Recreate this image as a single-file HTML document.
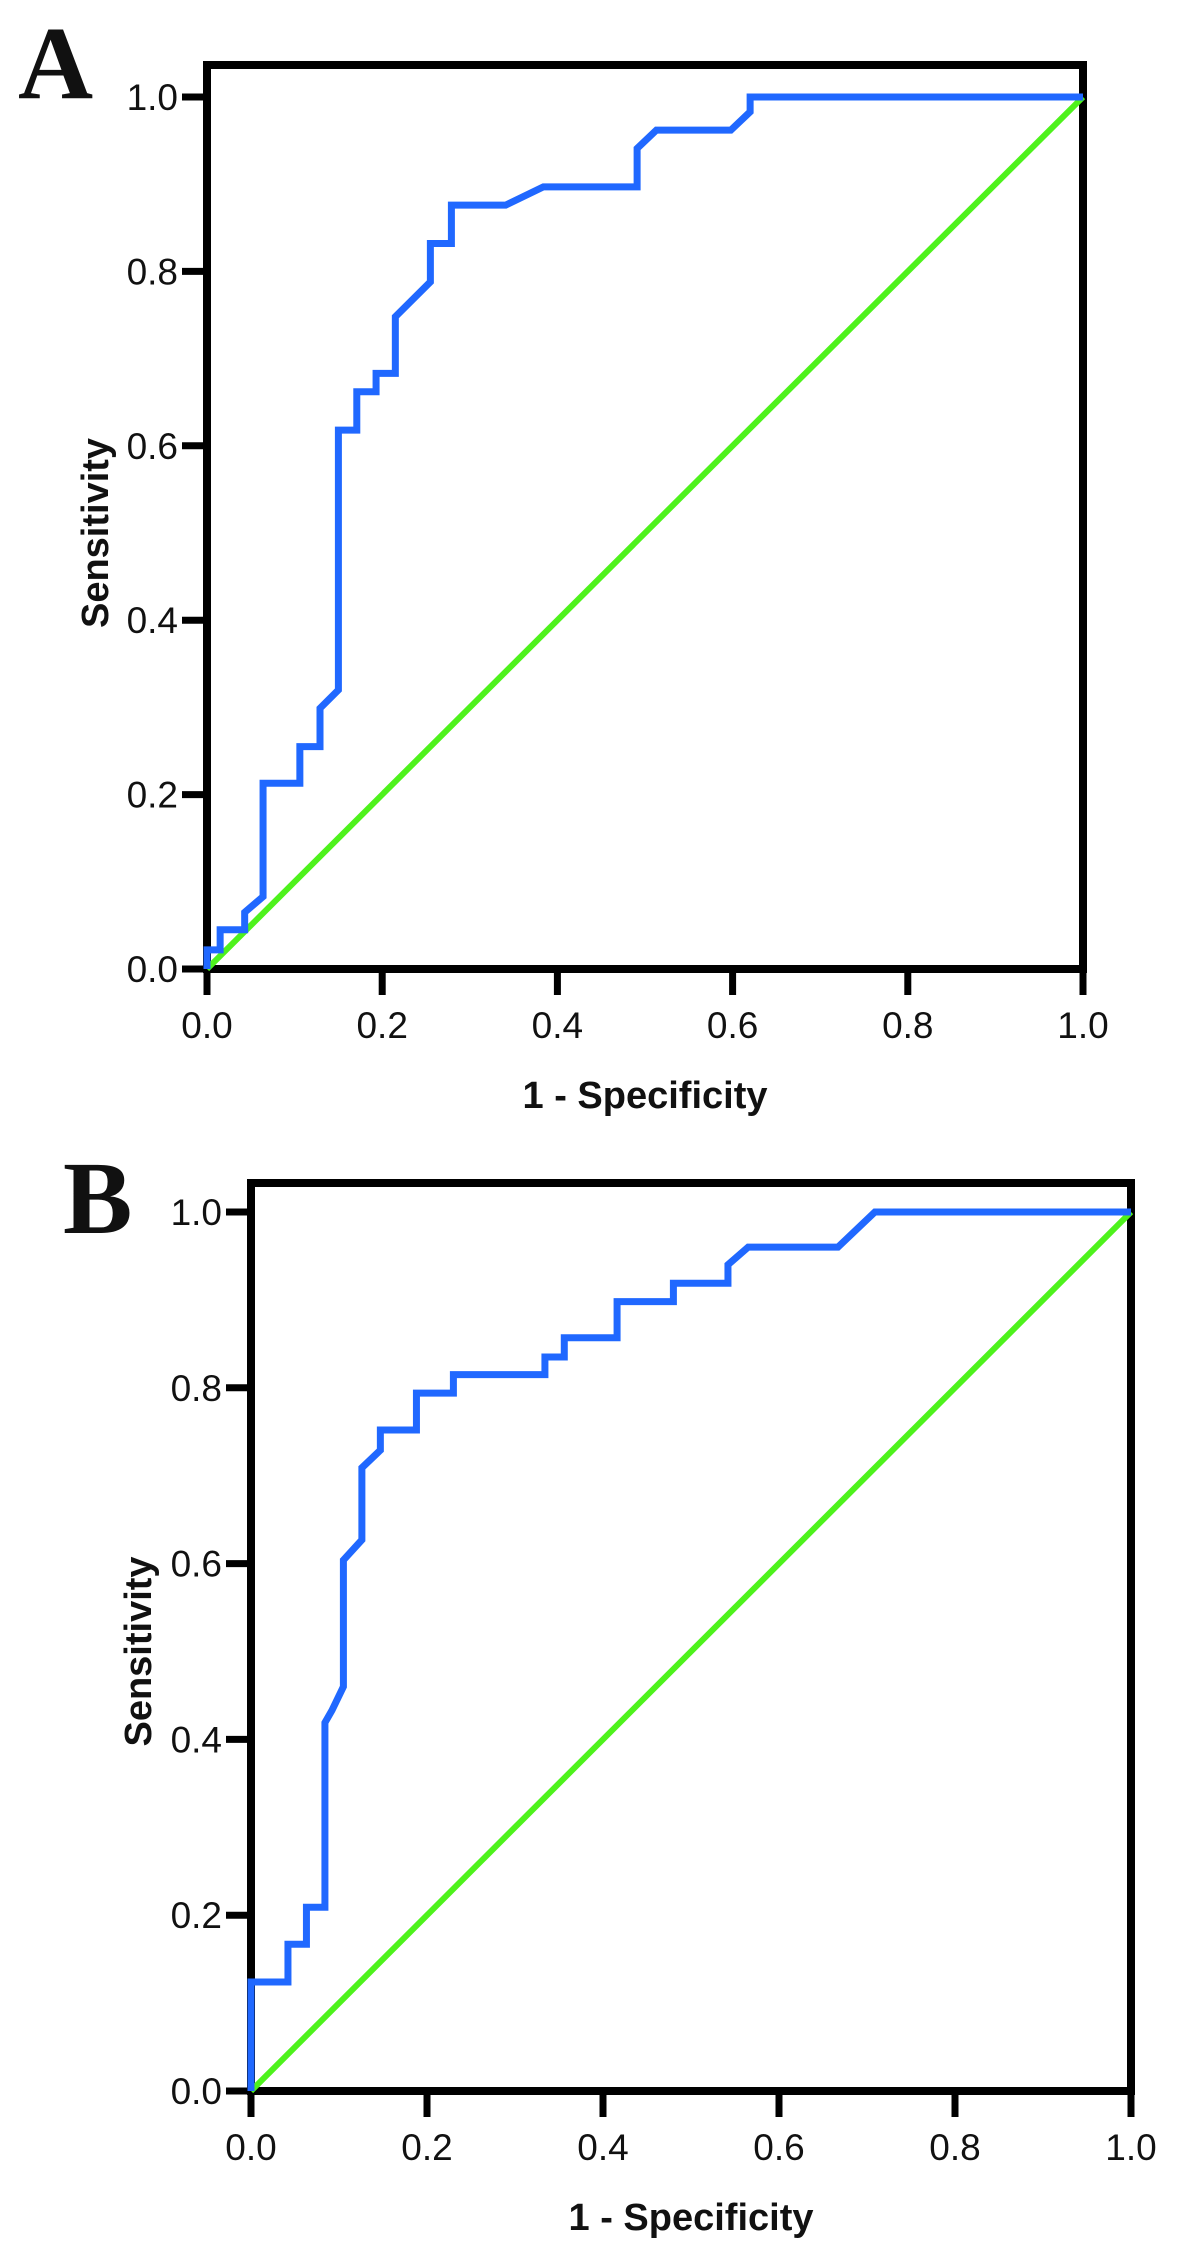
<!DOCTYPE html>
<html><head><meta charset="utf-8"><style>
html,body{margin:0;padding:0;background:#fff;}
svg{display:block;}
text{font-family:"Liberation Sans",sans-serif;fill:#111;}
</style></head><body>
<svg id="chart" width="1181" height="2265" viewBox="0 0 1181 2265" xmlns="http://www.w3.org/2000/svg"></svg>
<script>
const tickValues = [0, 0.2, 0.4, 0.6, 0.8, 1.0];
const tickLabels = ["0.0", "0.2", "0.4", "0.6", "0.8", "1.0"];
const rocAx = [0, 0, 0.015, 0.015, 0.021, 0.021, 0.043, 0.043, 0.064, 0.064, 0.106, 0.106, 0.129, 0.129, 0.150, 0.150, 0.171, 0.171, 0.193, 0.193, 0.215, 0.215, 0.255, 0.255, 0.279, 0.279, 0.341, 0.384, 0.491, 0.491, 0.513, 0.598, 0.620, 0.620, 1.0];
const rocAy = [0, 0.022, 0.022, 0.045, 0.045, 0.045, 0.045, 0.065, 0.083, 0.213, 0.213, 0.255, 0.255, 0.299, 0.320, 0.618, 0.618, 0.662, 0.662, 0.683, 0.683, 0.748, 0.788, 0.832, 0.832, 0.876, 0.876, 0.897, 0.897, 0.941, 0.962, 0.962, 0.983, 1.0, 1.0];
const rocBx = [0, 0, 0.042, 0.042, 0.063, 0.063, 0.084, 0.084, 0.092, 0.105, 0.105, 0.126, 0.126, 0.147, 0.147, 0.188, 0.188, 0.230, 0.230, 0.334, 0.334, 0.356, 0.356, 0.416, 0.416, 0.480, 0.480, 0.542, 0.542, 0.565, 0.667, 0.709, 1.0];
const rocBy = [0, 0.124, 0.124, 0.167, 0.167, 0.209, 0.209, 0.419, 0.433, 0.460, 0.604, 0.627, 0.709, 0.729, 0.752, 0.752, 0.794, 0.794, 0.815, 0.815, 0.835, 0.835, 0.857, 0.857, 0.898, 0.898, 0.919, 0.919, 0.940, 0.960, 0.960, 1.0, 1.0];
const refX = [0, 1];
const refY = [0, 1];

const svg = document.getElementById('chart');
const NS = 'http://www.w3.org/2000/svg';
function mk(tag, attrs, parent) {
  const e = document.createElementNS(NS, tag);
  for (const k in attrs) e.setAttribute(k, attrs[k]);
  parent.appendChild(e);
  return e;
}

function panel(p) {
  const g = mk('g', {}, svg);
  
  
  const sx = v => p.x0 + v * (p.x1 - p.x0);
  const sy = v => p.y0 + v * (p.y1 - p.y0);

  const letter = mk('text', {x: p.lx, y: p.ly, 'font-size': 104, 'font-weight': 'bold', style: 'font-family:"Liberation Serif",serif'}, g);
  letter.textContent = p.id;
  
  

  // frame
  const frame = mk('rect', {x: p.x0, y: p.top, width: p.x1 - p.x0, height: p.y0 - p.top, fill: 'none', stroke: '#000', 'stroke-width': 8}, g);
  
  

  tickValues.forEach((v, i) => {
    const ty = mk('line', {x1: p.x0 - 25, x2: p.x0, y1: sy(v), y2: sy(v), stroke: '#000', 'stroke-width': 7}, g);
    
    
    const ly = mk('text', {x: p.x0 - 29, y: sy(v) + 13, 'font-size': 37, 'text-anchor': 'end'}, g);
    ly.textContent = tickLabels[i];
    
    
    const tx = mk('line', {x1: sx(v), x2: sx(v), y1: p.y0, y2: p.y0 + 26, stroke: '#000', 'stroke-width': 7}, g);
    
    
    const lx = mk('text', {x: sx(v), y: p.y0 + 69, 'font-size': 37, 'text-anchor': 'middle'}, g);
    lx.textContent = tickLabels[i];
    
    
  });

  const yt = mk('text', {x: 0, y: 0, 'font-size': 38, 'font-weight': 'bold', 'text-anchor': 'middle', transform: `translate(${p.ytx},${(p.y0 + p.y1) / 2}) rotate(-90)`}, g);
  yt.textContent = 'Sensitivity';
  
  
  const xt = mk('text', {x: (p.x0 + p.x1) / 2, y: p.y0 + 139, 'font-size': 38, 'font-weight': 'bold', 'text-anchor': 'middle'}, g);
  xt.textContent = '1 - Specificity';
  
  

  const ref = mk('polyline', {points: refX.map((v, i) => sx(v) + ',' + sy(refY[i])).join(' '), fill: 'none', stroke: '#4ef21c', 'stroke-width': 6}, g);
  
  
  const roc = mk('polyline', {points: p.xs.map((v, i) => sx(v) + ',' + sy(p.ys[i])).join(' '), fill: 'none', stroke: '#2068ff', 'stroke-width': 7, 'stroke-linejoin': 'miter'}, g);
  
  
}

panel({id: 'A', x0: 207, x1: 1083, y0: 969, y1: 97, top: 65, lx: 18, ly: 98, ytx: 108, xs: rocAx, ys: rocAy});
panel({id: 'B', x0: 251, x1: 1131, y0: 2091, y1: 1212, top: 1183, lx: 63, ly: 1233, ytx: 151, xs: rocBx, ys: rocBy});
</script>
</body></html>
